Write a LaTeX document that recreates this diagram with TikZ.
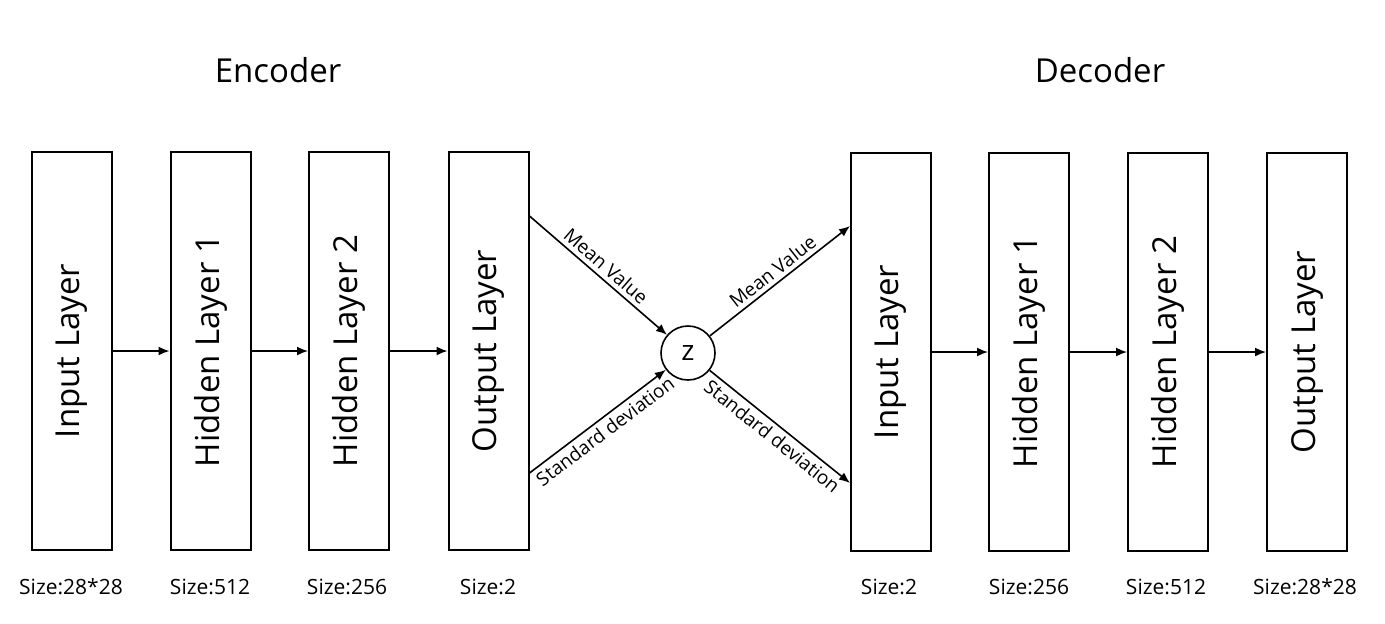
\documentclass[tikz,border=0pt]{standalone}
\usepackage{fontspec}
\setmainfont{Open Sans}
\usetikzlibrary{calc,arrows.meta}
\tikzset{
  >={Latex[length=5.5pt,width=4.5pt]},
  layer/.style={draw, line width=1pt, minimum width=40pt, minimum height=199pt, inner sep=0pt, font=\fontsize{16.5}{19}\selectfont},
  sizelbl/.style={font=\fontsize{10.5}{12}\selectfont},
  title/.style={font=\fontsize{16.5}{19}\selectfont},
  flow/.style={->, line width=0.8pt},
  edgelbl/.style={font=\fontsize{9.5}{11}\selectfont, sloped, inner sep=2pt}
}
\begin{document}
\begin{tikzpicture}[x=0.5pt, y=-0.5pt]
  \useasboundingbox (0,0) rectangle (1385,623);
  % titles
  \node[title] (enc) at (278,70) {Encoder};
  \node[title] (dec) at (1100,70) {Decoder};
  % encoder
  \node[layer] (ein) at (72,351) {\rotatebox{90}{Input Layer}};
  \node[layer] (eh1) at (210.5,351) {\rotatebox{90}{Hidden Layer 1}};
  \node[layer] (eh2) at (349,351) {\rotatebox{90}{Hidden Layer 2}};
  \node[layer] (eout) at (488.5,351) {\rotatebox{90}{Output Layer}};
  % decoder
  \node[layer] (din) at (891,352) {\rotatebox{90}{Input Layer}};
  \node[layer] (dh1) at (1029,352) {\rotatebox{90}{Hidden Layer 1}};
  \node[layer] (dh2) at (1168,352) {\rotatebox{90}{Hidden Layer 2}};
  \node[layer] (dout) at (1307,352) {\rotatebox{90}{Output Layer}};
  % latent
  \node[draw, circle, line width=0.8pt, minimum size=27pt, inner sep=0pt, font=\fontsize{14}{16}\selectfont] (z) at (688,353) {z};
  % sizes
  \node[sizelbl] (s1) at (71,587) {Size:28*28};
  \node[sizelbl] (s2) at (210,587) {Size:512};
  \node[sizelbl] (s3) at (347,587) {Size:256};
  \node[sizelbl] (s4) at (488,587) {Size:2};
  \node[sizelbl] (s5) at (889,587) {Size:2};
  \node[sizelbl] (s6) at (1029,587) {Size:256};
  \node[sizelbl] (s7) at (1166,587) {Size:512};
  \node[sizelbl] (s8) at (1305,587) {Size:28*28};
  % connectors
  \draw[flow] (ein) -- (eh1);
  \draw[flow] (eh1) -- (eh2);
  \draw[flow] (eh2) -- (eout);
  \draw[flow] (din) -- (dh1);
  \draw[flow] (dh1) -- (dh2);
  \draw[flow] (dh2) -- (dout);
  \coordinate (emean) at ($(eout.north east)+(0,65)$);
  \coordinate (estd) at ($(eout.north east)+(0,322)$);
  \coordinate (dmean) at ($(din.north west)+(0,74)$);
  \coordinate (dstd) at ($(din.north west)+(0,331)$);
  \draw[flow] (emean) -- node[edgelbl, above] {Mean Value} (z);
  \draw[flow] (estd) -- node[edgelbl, below] {Standard deviation} (z);
  \draw[flow] (z) -- node[edgelbl, above] {Mean Value} (dmean);
  \draw[flow] (z) -- node[edgelbl, below] {Standard deviation} (dstd);
\end{tikzpicture}
\end{document}
